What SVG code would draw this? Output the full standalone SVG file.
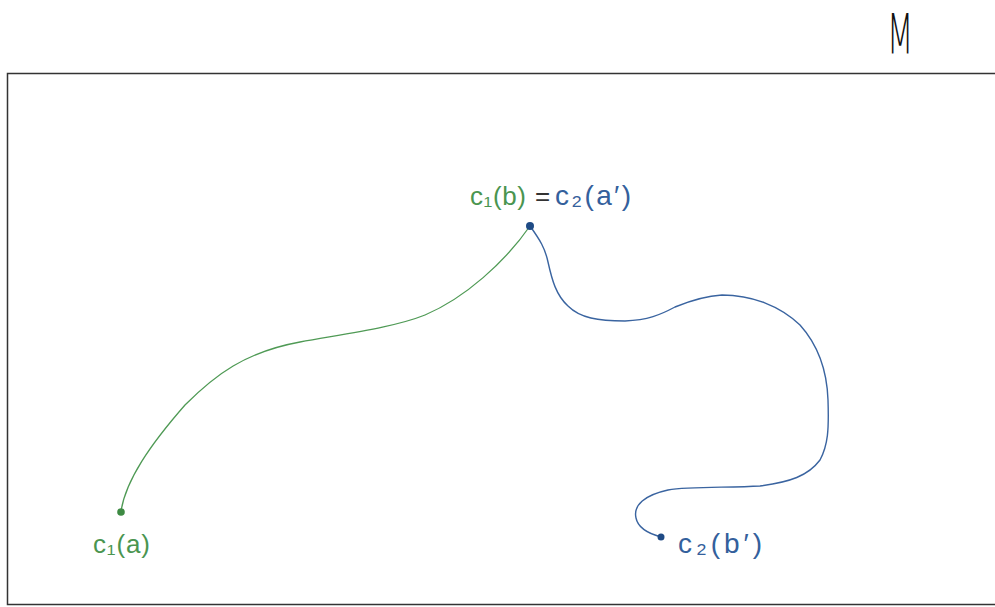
<svg xmlns="http://www.w3.org/2000/svg" width="995" height="607" viewBox="0 0 995 607">
<style>
.g{fill:none;stroke:#4f9a55;stroke-width:1.3;stroke-linecap:round}
.b{fill:none;stroke:#3a64a0;stroke-width:1.4;stroke-linecap:round}
.t{font-family:"Liberation Sans",sans-serif;font-size:26px}
.tg{fill:#4a9550}
.tb{fill:#34609c;font-size:28px}
</style>
<rect x="0" y="0" width="995" height="607" fill="#ffffff"/>
<g id="frame">
<rect x="7.5" y="73.5" width="990" height="531" fill="none" stroke="#333" stroke-width="1.5"/>
</g>
<g id="label-M">
<text transform="translate(887,53) scale(0.8,1.45)" x="0" y="0" font-family="DejaVu Sans, sans-serif" font-size="38" font-weight="200" fill="#111">M</text>
</g>
<g id="connectors">
<path class="g" d="M121,511 C126,480 150,445 185,405 C215,375 245,352 300,342 C350,333 395,327 425,315 C465,298 505,262 530,226"/>
<path class="b" d="M530,226 C540,240 545,248 548,262 C552,280 556,295 568,306 C580,318 598,321 625,321 C648,320 660,315 675,307 C692,300 705,296 722,295 C752,295 780,306 800,325 C818,345 827,370 828,400 C829,430 828,445 820,460 C808,476 790,482 760,486 C730,488 690,486 668,490 C645,495 633,505 636,518 C638,528 650,534 661,537"/>
</g>
<g id="node-c1b">
<circle cx="530" cy="226" r="4" fill="#1f4b85"/>
<text x="470" y="205" class="t tg" textLength="56" lengthAdjust="spacing">c₁(b)</text>
<text x="535" y="205" class="t" fill="#333">=</text>
<text x="555" y="205" class="t tb" textLength="76" lengthAdjust="spacing">c₂(a′)</text>
</g>
<g id="node-c1a">
<circle cx="121" cy="512" r="3.8" fill="#3d8a43"/>
<text x="93" y="553" class="t tg" textLength="57" lengthAdjust="spacing">c₁(a)</text>
</g>
<g id="node-c2b">
<circle cx="661" cy="537" r="3.5" fill="#1f4b85"/>
<text x="678" y="553" class="t tb" textLength="84" lengthAdjust="spacing">c₂(b′)</text>
</g>
</svg>
